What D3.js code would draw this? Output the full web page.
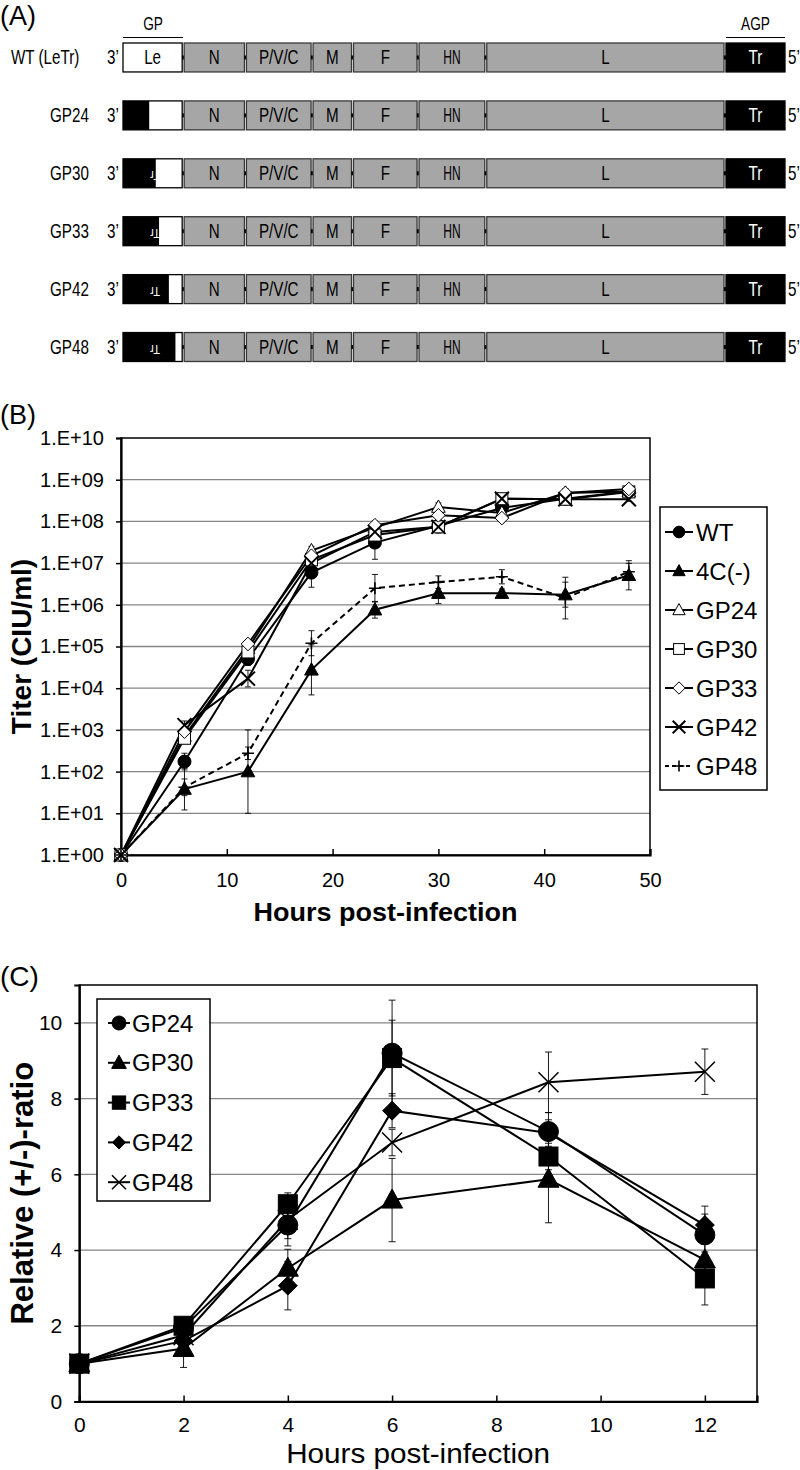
<!DOCTYPE html>
<html><head><meta charset="utf-8">
<script src="https://cdn.jsdelivr.net/npm/d3@7"></script>
<style>body{margin:0;background:#fff} svg{display:block}</style>
</head><body>
<svg id="c" width="800" height="1470"></svg>
<script>
// ---------------- Panel A data ----------------
const geneNames = ["Le","N","P/V/C","M","F","HN","L","Tr"];
const geneSizes = [56,57,61,37,60,62,219,54];      // relative genome units (incl. junction)
const leLength = 55;                               // leader length (nt)
const constructNames = ["WT (LeTr)","GP24","GP30","GP33","GP42","GP48"];
const gpReplaced = [0,24,30,33,42,48];             // nt of leader replaced by trailer complement

// ---------------- Panel B data ----------------
const hoursB = [0,6,12,18,24,30,36,42,48];
const seriesB = ["WT","4C(-)","GP24","GP30","GP33","GP42","GP48"];
const titerWT   = [1, 174, 5.0e4, 5.9e6, 3.1e7, 7.9e7, 2.1e8, 3.5e8, 5.2e8];
const titer4C   = [1, 38, 100, 2.75e4, 7.6e5, 1.9e6, 1.9e6, 1.75e6, 5.1e6];
const titerGP24 = [1, 710, 8.9e4, 2.0e7, 7.1e7, 2.2e8, 1.6e8, 4.8e8, 5.2e8];
const titerGP30 = [1, 630, 7.4e4, 1.2e7, 4.7e7, 7.4e7, 3.5e8, 3.4e8, 5.1e8];
const titerGP33 = [1, 910, 1.15e5, 1.5e7, 8.1e7, 1.4e8, 1.2e8, 4.8e8, 6.0e8];
const titerGP42 = [1, 1300, 1.7e4, 1.0e7, 5.6e7, 7.4e7, 3.5e8, 3.4e8, 3.4e8];
const titerGP48 = [1, 42, 275, 1.2e5, 2.5e6, 3.5e6, 4.7e6, 1.45e6, 6.2e6];
// error (log10 units)
const errWT   = [0, 0.2, 0.15, 0.35, 0.4, 0.1, 0.1, 0.1, 0.1];
const err4C   = [0, 0.5, 1.0, 0.6, 0.2, 0.25, 0.1, 0.3, 0.35];
const errGP24 = [0, 0.1, 0.1, 0.1, 0.1, 0.1, 0.1, 0.1, 0.05];
const errGP30 = [0, 0.1, 0.1, 0.1, 0.1, 0.1, 0.1, 0.1, 0.05];
const errGP33 = [0, 0.1, 0.1, 0.1, 0.1, 0.1, 0.1, 0.1, 0.05];
const errGP42 = [0, 0.1, 0.2, 0.1, 0.1, 0.15, 0.1, 0.1, 0.05];
const errGP48 = [0, 0.2, 0.15, 0.3, 0.33, 0.15, 0.17, 0.5, 0.2];
const ticksB = [1,1e1,1e2,1e3,1e4,1e5,1e6,1e7,1e8,1e9,1e10];
const xTicksB = [0,10,20,30,40,50];

// ---------------- Panel C data ----------------
const hoursC = [0,2,4,6,9,12];
const seriesC = ["GP24","GP30","GP33","GP42","GP48"];
const ratioGP24 = [1, 1.95, 4.66, 9.2, 7.13, 4.4];
const ratioGP30 = [1, 1.4, 3.52, 5.32, 5.87, 3.74];
const ratioGP33 = [1, 2.0, 5.21, 9.07, 6.47, 3.25];
const ratioGP42 = [1, 1.6, 3.06, 7.68, 7.09, 4.66];
const ratioGP48 = [1, 1.75, 4.8, 6.84, 8.43, 8.71];
const errCGP24 = [0, 0.15, 0.55, 1.4, 0.5, 0.55];
const errCGP30 = [0, 0.5, 0.5, 1.1, 1.15, 0.5];
const errCGP33 = [0, 0.1, 0.3, 1.0, 0.35, 0.7];
const errCGP42 = [0, 0.2, 0.64, 0.45, 0.35, 0.5];
const errCGP48 = [0, 0.2, 0.5, 0.35, 0.8, 0.6];
const yTicksC = [0,2,4,6,8,10];
const xTicksC = [0,2,4,6,8,10,12];

// ---------------- drawing ----------------
const SANS = "'Liberation Sans', Arial, sans-serif";
const svg = d3.select("#c");

// condensed text helper (horizontal squeeze of a regular sans)
function ntext(g, x, y, str, size, opts={}) {
  return g.append("text")
    .attr("transform", `translate(${x},${y}) scale(${opts.sx || 0.76},1)`)
    .attr("text-anchor", opts.anchor || "start")
    .attr("font-family", SANS).attr("font-size", size)
    .attr("fill", opts.fill || "#000").text(str);
}

// ===== Panel A =====
const gA = svg.append("g");
gA.append("text").attr("x",0).attr("y",25).attr("font-family",SANS).attr("font-size",27).text("(A)");
const cum = [0]; geneSizes.forEach((s,i)=>cum.push(cum[i]+s));
const xA = d3.scaleLinear().domain([0, d3.sum(geneSizes)]).range([123, 785]);
const yA = d3.scaleBand().domain(constructNames).range([43, 361.5]).paddingInner(0.5);
const bh = yA.bandwidth();

// GP / AGP header
ntext(gA, (xA(0)+xA(leLength))/2, 30, "GP", 18, {anchor:"middle"});
gA.append("line").attr("x1",xA(0)).attr("x2",xA(leLength)).attr("y1",37.5).attr("y2",37.5).attr("stroke","#000").attr("stroke-width",1.2);
ntext(gA, (xA(cum[7])+xA(cum[8]))/2, 30, "AGP", 18, {anchor:"middle"});
gA.append("line").attr("x1",xA(cum[7])).attr("x2",xA(cum[8])).attr("y1",37.5).attr("y2",37.5).attr("stroke","#000").attr("stroke-width",1.2);

constructNames.forEach((name, r) => {
  const y0 = yA(name), yc = y0 + bh/2;
  const row = gA.append("g");
  ntext(row, r===0 ? 11 : 50, yc+7, name, 20);
  ntext(row, 107, yc+7, "3\u2019", 20);
  ntext(row, 788, yc+7, "5\u2019", 20);
  geneNames.forEach((gname, i) => {
    const x0 = xA(cum[i]);
    const x1 = i < geneNames.length-1 ? xA(cum[i+1]) - 2 : xA(cum[i+1]);
    const fill = gname==="Le" ? "#fff" : gname==="Tr" ? "#000" : "#a6a6a6";
    row.append("rect").attr("x",x0).attr("y",y0).attr("width",x1-x0).attr("height",bh)
      .attr("fill",fill).attr("stroke", gname==="Le"||gname==="Tr" ? "#000" : "#3a3a3a").attr("stroke-width",1.3);
    if (gname==="Le" && gpReplaced[r] > 0) {
      const xb = xA(gpReplaced[r]);
      row.append("rect").attr("x",x0).attr("y",y0).attr("width",xb-x0).attr("height",bh).attr("fill","#000");
      const cp = "clipA"+r;
      row.append("clipPath").attr("id",cp).append("rect").attr("x",x0).attr("y",y0).attr("width",xb-x0).attr("height",bh);
      row.append("g").attr("clip-path","url(#"+cp+")")
        .append("text").attr("transform",`translate(${x0+32},${yc-2.5}) rotate(180) scale(0.9,1)`).attr("text-anchor","middle")
        .attr("font-family",SANS).attr("font-size",12).attr("fill","#fff").text("Tr");
    }
    if (i < geneNames.length-1) {
      row.append("rect").attr("x", xA(cum[i+1])-2.2).attr("y", yc-2).attr("width",2.4).attr("height",4).attr("fill","#000");
    }
    if (gname !== "Le" || gpReplaced[r] === 0) {
      ntext(row, (x0+x1)/2, yc+7, gname, 20, {anchor:"middle", fill: gname==="Tr" ? "#fff" : "#000", sx: gname==="HN" ? 0.6 : 0.76});
    }
  });
});

// ===== marker helper =====
function marker(g, type, x, y, s, opts={}) {
  const h = s/2;
  const fillC = opts.open ? "#fff" : "#000";
  const sw = opts.sw || 1;
  if (type==="circle") g.append("circle").attr("cx",x).attr("cy",y).attr("r",h).attr("fill",fillC).attr("stroke","#000").attr("stroke-width",sw);
  else if (type==="triangle") g.append("path").attr("d",`M${x},${y-h*1.1}L${x+h*1.05},${y+h*0.8}L${x-h*1.05},${y+h*0.8}Z`).attr("fill",fillC).attr("stroke","#000").attr("stroke-width",sw);
  else if (type==="square") g.append("rect").attr("x",x-h).attr("y",y-h).attr("width",s).attr("height",s).attr("fill",fillC).attr("stroke","#000").attr("stroke-width",sw);
  else if (type==="diamond") g.append("path").attr("d",`M${x},${y-h*1.05}L${x+h*1.05},${y}L${x},${y+h*1.05}L${x-h*1.05},${y}Z`).attr("fill",fillC).attr("stroke","#000").attr("stroke-width",sw);
  else if (type==="x") g.append("path").attr("d",`M${x-h},${y-h}L${x+h},${y+h}M${x-h},${y+h}L${x+h},${y-h}`).attr("fill","none").attr("stroke","#000").attr("stroke-width",sw);
  else if (type==="plus") g.append("path").attr("d",`M${x-h},${y}L${x+h},${y}M${x},${y-h}L${x},${y+h}`).attr("fill","none").attr("stroke","#000").attr("stroke-width",sw);
}

// ===== Panel B =====
const gB = svg.append("g");
gB.append("text").attr("x",0).attr("y",424).attr("font-family",SANS).attr("font-size",27).text("(B)");
const xB = d3.scaleLinear().domain([0,50]).range([121,650]);
const yB = d3.scaleLog().domain([1,1e10]).range([855,438]);
gB.selectAll(".grid").data(ticksB.slice(1,-1)).join("line")
  .attr("x1",xB(0)).attr("x2",xB(50)).attr("y1",d=>yB(d)).attr("y2",d=>yB(d)).attr("stroke","#858585").attr("stroke-width",1.3);
gB.append("rect").attr("x",xB(0)).attr("y",yB(1e10)).attr("width",xB(50)-xB(0)).attr("height",yB(1)-yB(1e10))
  .attr("fill","none").attr("stroke","#000").attr("stroke-width",1.5);
const fmtE = d => "1.E+" + String(Math.round(Math.log10(d))).padStart(2,"0");
const axLB = gB.append("g").attr("transform",`translate(${xB(0)},0)`)
  .call(d3.axisLeft(yB).tickValues(ticksB).tickFormat(fmtE).tickSize(5).tickPadding(12));
const axBB = gB.append("g").attr("transform",`translate(0,${yB(1)})`)
  .call(d3.axisBottom(xB).tickValues(xTicksB).tickFormat(d3.format("d")).tickSize(-6).tickPadding(18));
[axLB, axBB].forEach(a => {
  a.select(".domain").attr("stroke-width",2.2);
  a.selectAll(".tick line").attr("stroke-width",1.5);
  a.selectAll("text").attr("font-family",SANS).attr("font-size",20).attr("fill","#000");
});
gB.append("text").attr("transform",`translate(31,${(yB(1)+yB(1e10))/2}) rotate(-90)`).attr("text-anchor","middle")
  .attr("font-family",SANS).attr("font-weight","bold").attr("font-size",28).text("Titer (CIU/ml)");
gB.append("text").attr("x",(xB(0)+xB(50))/2).attr("y",921).attr("text-anchor","middle")
  .attr("font-family",SANS).attr("font-weight","bold").attr("font-size",26)
  .attr("textLength",264).attr("lengthAdjust","spacingAndGlyphs").text("Hours post-infection");

const dataB = [titerWT, titer4C, titerGP24, titerGP30, titerGP33, titerGP42, titerGP48];
const errB  = [errWT, err4C, errGP24, errGP30, errGP33, errGP42, errGP48];
const mkB = [
  {t:"circle", s:13}, {t:"triangle", s:13}, {t:"triangle", s:13, open:true},
  {t:"square", s:12, open:true}, {t:"diamond", s:13, open:true}, {t:"x", s:14, sw:2}, {t:"plus", s:12, sw:1.6}
];
const lineB = d3.line().x((d,i)=>xB(hoursB[i])).y(d=>yB(d));
dataB.forEach((vals, si) => {
  vals.forEach((v,i) => {
    const e = errB[si][i]; if (!e) return;
    const x = xB(hoursB[i]), ylo = yB(v/Math.pow(10,e)), yhi = yB(v*Math.pow(10,e));
    gB.append("path").attr("d",`M${x},${ylo}V${yhi}M${x-3},${ylo}H${x+3}M${x-3},${yhi}H${x+3}`)
      .attr("stroke","#000").attr("stroke-width",0.9).attr("fill","none");
  });
});
dataB.forEach((vals, si) => {
  gB.append("path").datum(vals).attr("d",lineB).attr("fill","none").attr("stroke","#000").attr("stroke-width",2)
    .attr("stroke-dasharray", si===6 ? "6,4" : null);
});
dataB.forEach((vals, si) => {
  vals.forEach((v,i) => marker(gB, mkB[si].t, xB(hoursB[i]), yB(v), mkB[si].s, mkB[si]));
});
// legend B
const legB = gB.append("g");
legB.append("rect").attr("x",660).attr("y",507).attr("width",107).attr("height",283).attr("fill","#fff").attr("stroke","#000").attr("stroke-width",1.5);
seriesB.forEach((name, i) => {
  const y = 532 + i*39;
  legB.append("line").attr("x1",665).attr("x2",693).attr("y1",y).attr("y2",y).attr("stroke","#000").attr("stroke-width",2)
    .attr("stroke-dasharray", i===6 ? "4,3" : null);
  marker(legB, mkB[i].t, 679, y, mkB[i].s*0.9, mkB[i]);
  legB.append("text").attr("x",696).attr("y",y+8.5).attr("font-family",SANS).attr("font-size",24).text(name);
});

// ===== Panel C =====
const gC = svg.append("g");
gC.append("text").attr("x",0).attr("y",986).attr("font-family",SANS).attr("font-size",28).text("(C)");
const xC = d3.scaleLinear().domain([0,13]).range([79.3,757]);
const yC = d3.scaleLinear().domain([0,11]).range([1401.5,985]);
gC.selectAll(".grid").data(yTicksC.slice(1)).join("line")
  .attr("x1",xC(0)).attr("x2",xC(13)).attr("y1",d=>yC(d)).attr("y2",d=>yC(d)).attr("stroke","#858585").attr("stroke-width",1.3);
gC.append("rect").attr("x",xC(0)).attr("y",yC(11)).attr("width",xC(13)-xC(0)).attr("height",yC(0)-yC(11))
  .attr("fill","none").attr("stroke","#000").attr("stroke-width",1.5);
const axLC = gC.append("g").attr("transform",`translate(${xC(0)},0)`)
  .call(d3.axisLeft(yC).tickValues(yTicksC).tickFormat(d3.format("d")).tickSize(5).tickPadding(12));
const axBC = gC.append("g").attr("transform",`translate(0,${yC(0)})`)
  .call(d3.axisBottom(xC).tickValues(xTicksC).tickFormat(d3.format("d")).tickSize(-6).tickPadding(16));
[axLC, axBC].forEach(a => {
  a.select(".domain").attr("stroke-width",2.2);
  a.selectAll(".tick line").attr("stroke-width",1.5);
  a.selectAll("text").attr("font-family",SANS).attr("font-size",21).attr("fill","#000");
});
gC.append("text").attr("transform",`translate(33,${(yC(0)+yC(11))/2}) rotate(-90)`).attr("text-anchor","middle")
  .attr("font-family",SANS).attr("font-weight","bold").attr("font-size",31).text("Relative (+/-)-ratio");
gC.append("text").attr("x",(xC(0)+xC(13))/2).attr("y",1463).attr("text-anchor","middle")
  .attr("font-family",SANS).attr("font-size",28)
  .attr("textLength",264).attr("lengthAdjust","spacingAndGlyphs").text("Hours post-infection");

const dataC = [ratioGP24, ratioGP30, ratioGP33, ratioGP42, ratioGP48];
const errC  = [errCGP24, errCGP30, errCGP33, errCGP42, errCGP48];
const mkC = [{t:"circle", s:20}, {t:"triangle", s:20}, {t:"square", s:19}, {t:"diamond", s:18}, {t:"x", s:20, sw:1.5}];
const lineC = d3.line().x((d,i)=>xC(hoursC[i])).y(d=>yC(d));
dataC.forEach((vals, si) => {
  vals.forEach((v,i) => {
    const e = errC[si][i]; if (!e) return;
    const x = xC(hoursC[i]), ylo = yC(v-e), yhi = yC(v+e);
    gC.append("path").attr("d",`M${x},${ylo}V${yhi}M${x-3.5},${ylo}H${x+3.5}M${x-3.5},${yhi}H${x+3.5}`)
      .attr("stroke","#000").attr("stroke-width",0.9).attr("fill","none");
  });
});
dataC.forEach(vals => {
  gC.append("path").datum(vals).attr("d",lineC).attr("fill","none").attr("stroke","#000").attr("stroke-width",2);
});
dataC.forEach((vals, si) => {
  vals.forEach((v,i) => marker(gC, mkC[si].t, xC(hoursC[i]), yC(v), mkC[si].s, mkC[si]));
});
const legC = gC.append("g");
legC.append("rect").attr("x",97).attr("y",999).attr("width",113).attr("height",202).attr("fill","#fff").attr("stroke","#000").attr("stroke-width",1.5);
seriesC.forEach((name, i) => {
  const y = 1023 + i*39.8;
  legC.append("line").attr("x1",108).attr("x2",130).attr("y1",y).attr("y2",y).attr("stroke","#000").attr("stroke-width",2);
  marker(legC, mkC[i].t, 119, y, mkC[i].s*0.7, mkC[i]);
  legC.append("text").attr("x",132).attr("y",y+8.5).attr("font-family",SANS).attr("font-size",24).text(name);
});
</script>
</body></html>
